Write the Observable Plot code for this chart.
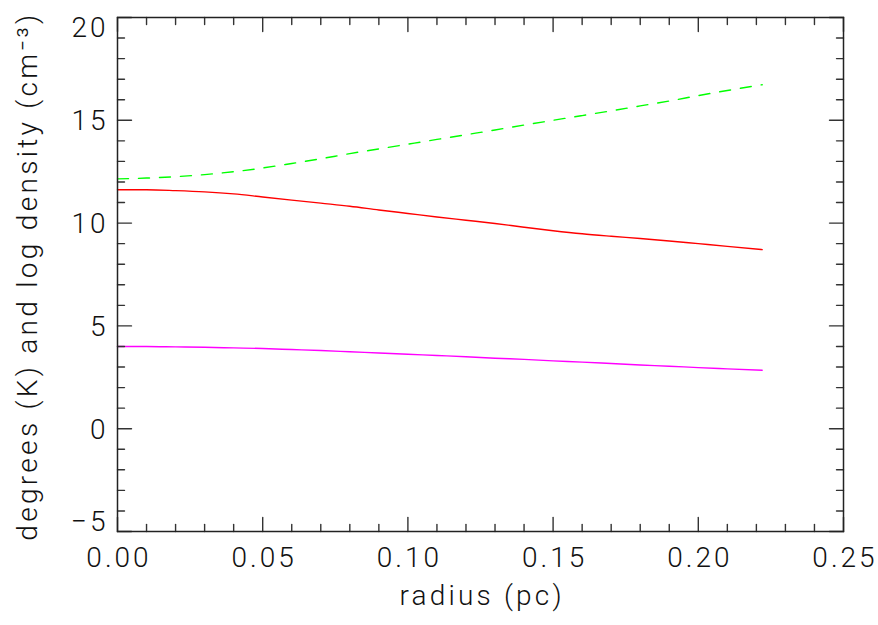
<!DOCTYPE html>
<html><head><meta charset="utf-8">
<script src="https://cdn.jsdelivr.net/npm/d3@7"></script>
<script src="https://cdn.jsdelivr.net/npm/@observablehq/plot@0.6"></script>
<style>
body{margin:0;background:#fff}
</style>
</head><body><div id="chart"></div>
<script>
const radius = [0, 0.01, 0.02, 0.03, 0.04, 0.05, 0.06, 0.07, 0.08, 0.09, 0.10, 0.11, 0.12, 0.13, 0.14, 0.15, 0.16, 0.17, 0.18, 0.19, 0.20, 0.21, 0.222];
const greenDashed = [12.15, 12.19, 12.26, 12.36, 12.5, 12.68, 12.9, 13.13, 13.38, 13.61, 13.84, 14.07, 14.3, 14.53, 14.77, 15.0, 15.23, 15.46, 15.7, 15.94, 16.2, 16.45, 16.73];
const redSolid = [11.62, 11.62, 11.58, 11.52, 11.42, 11.27, 11.12, 10.97, 10.82, 10.64, 10.47, 10.3, 10.14, 9.98, 9.8, 9.63, 9.48, 9.36, 9.25, 9.13, 9.0, 8.87, 8.71];
const magentaSolid = [4.0, 4.0, 3.98, 3.96, 3.93, 3.9, 3.85, 3.8, 3.74, 3.68, 3.62, 3.56, 3.5, 3.43, 3.37, 3.3, 3.24, 3.17, 3.1, 3.04, 2.97, 2.91, 2.84];

const xMajor = [0, 0.05, 0.10, 0.15, 0.20, 0.25];
const xMinor = d3.range(0, 26).map(i => i / 100).filter(v => Math.round(v * 100) % 5 !== 0);
const yMajor = [-5, 0, 5, 10, 15, 20];
const yMinor = d3.range(-5, 21).filter(v => v % 5 !== 0);
const xTitle = "radius (pc)";
const yTitle = "degrees (K) and log density (cm\u207B\u00B3)";

const toPoints = vals => radius.map((r, i) => ({r, v: vals[i]}));

const tickShape = {draw(ctx, l) { ctx.moveTo(0, 0); ctx.lineTo(0, -l); }};
function ticks(values, side, len) {
  const rot = {bottom: 0, top: 180, left: 90, right: -90}[side];
  const ch = (side === "bottom" || side === "top") ? {x: d => d} : {y: d => d};
  return Plot.vector(values, {...ch, frameAnchor: side, length: len, rotate: rot, anchor: "start",
    shape: tickShape, stroke: "#333", strokeWidth: 1.4});
}

const font = {fontFamily: "Roboto", fontWeight: 300, fontSize: 28, fill: "#111"};

const chart = Plot.plot({
  width: 878, height: 625,
  marginLeft: 117, marginRight: 35, marginTop: 17, marginBottom: 94,
  x: {domain: [0, 0.25], axis: null},
  y: {domain: [-5, 20], axis: null},
  style: {fontFamily: "Roboto", background: "#fff"},
  marks: [
    Plot.line(toPoints(greenDashed), {x: "r", y: "v", stroke: "#00ff00", strokeWidth: 1.4, strokeDasharray: "11,10", curve: "monotone-x"}),
    Plot.line(toPoints(redSolid), {x: "r", y: "v", stroke: "#ff0000", strokeWidth: 1.4, curve: "monotone-x"}),
    Plot.line(toPoints(magentaSolid), {x: "r", y: "v", stroke: "#ff00ff", strokeWidth: 1.4, curve: "monotone-x"}),
    ticks(xMajor, "bottom", 14), ticks(xMinor, "bottom", 7),
    ticks(xMajor, "top", 14), ticks(xMinor, "top", 7),
    ticks(yMajor, "left", 14), ticks(yMinor, "left", 7),
    ticks(yMajor, "right", 14), ticks(yMinor, "right", 7),
    Plot.frame({stroke: "#222", strokeWidth: 1.5}),
    Plot.text(xMajor, {x: d => d, frameAnchor: "bottom", dy: 35, dx: 1.5, text: d => d3.format(".2f")(d), ...font}),
    Plot.text(yMajor.filter(v => v !== 20 && v !== -5), {y: d => d, frameAnchor: "left", dx: -9, dy: 1, textAnchor: "end", text: d => String(d), ...font}),
    Plot.text(yMajor.filter(v => v === 20), {y: d => d, frameAnchor: "left", dx: -9, dy: 11, textAnchor: "end", text: d => String(d), ...font}),
    Plot.text(yMajor.filter(v => v === -5), {y: d => d, frameAnchor: "left", dx: -9, dy: -9, textAnchor: "end", text: d => "\u2212" + (-d), ...font}),
    Plot.text([xTitle], {frameAnchor: "bottom", textAnchor: "middle", dy: 73, dx: 1.6, text: d => d, ...font}),
    Plot.text([yTitle], {frameAnchor: "left", textAnchor: "middle", dx: -89, dy: 1.6, rotate: -90, text: d => d, ...font})
  ]
});
chart.querySelectorAll("text").forEach(t => {
  const s = t.textContent;
  const ls = s === yTitle ? 3.3 : s === xTitle ? 3.2 : 3;
  t.setAttribute("letter-spacing", ls);
  t.style.letterSpacing = ls + "px";
});
document.getElementById("chart").appendChild(chart);
</script>
</body></html>
